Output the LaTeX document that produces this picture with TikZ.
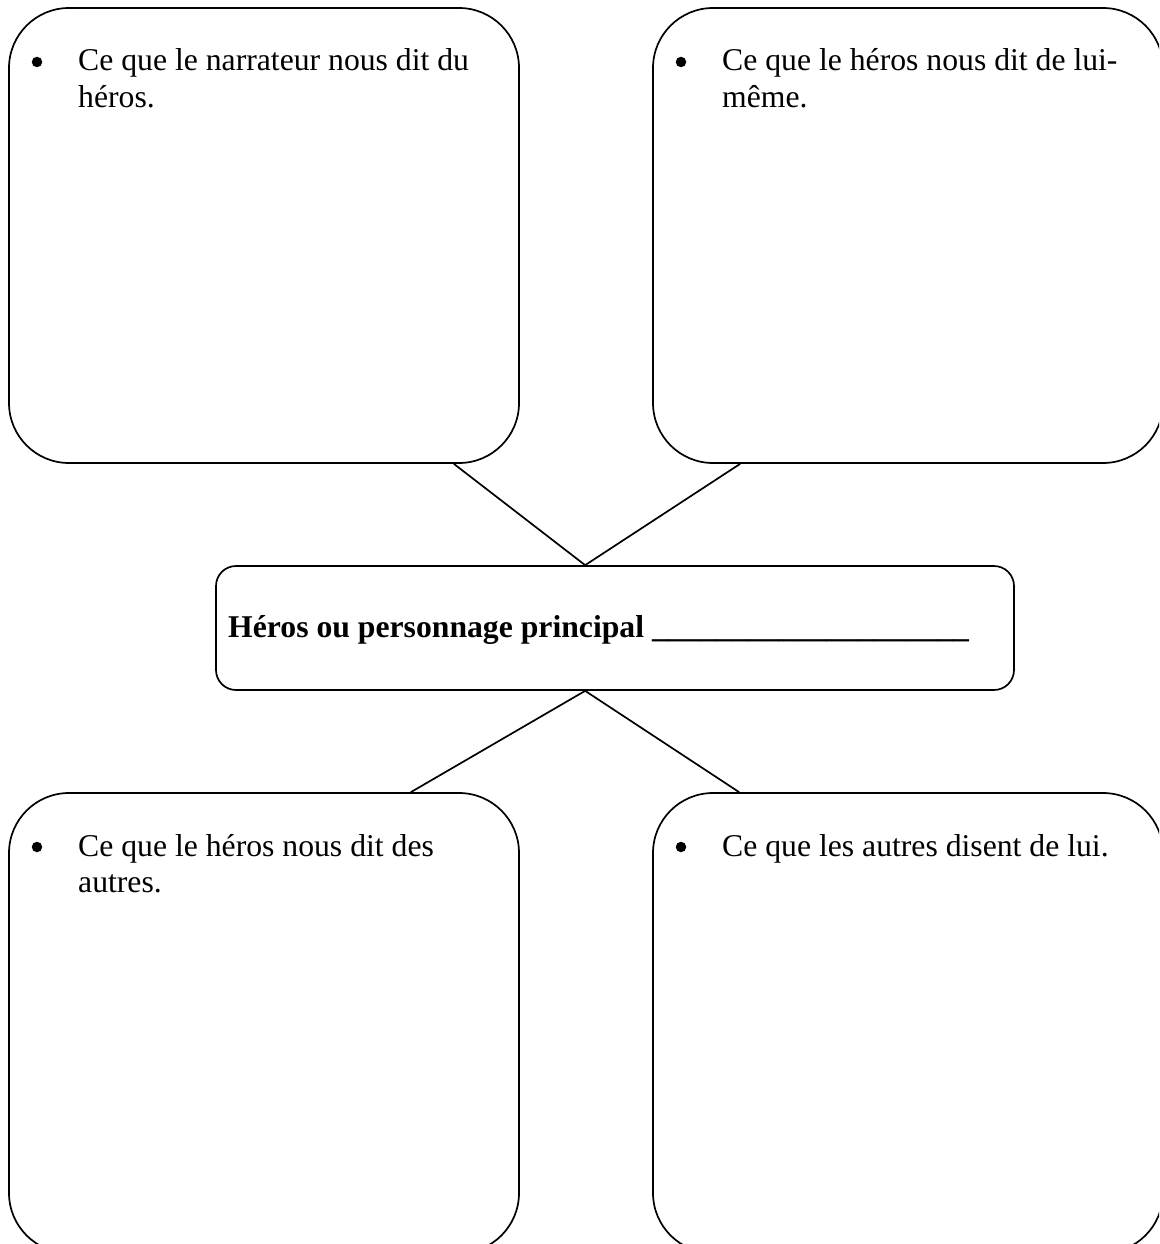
\documentclass[tikz,border=0pt]{standalone}
\usepackage{fontspec}
\setmainfont{Liberation Serif}
\usetikzlibrary{calc}
\begin{document}
\begin{tikzpicture}[x=1pt,y=-1pt,
  bigbox/.style={draw,line width=1.7pt,rounded corners=60pt,inner sep=0pt,minimum width=510pt,minimum height=#1},
  midbox/.style={draw,line width=1.7pt,rounded corners=20pt,inner sep=0pt,minimum width=798pt,minimum height=124pt},
  conn/.style={line width=1.7pt},
  txt/.style={anchor=base west,inner sep=0pt,text width=440pt,align=flush left,font=\fontsize{31.7}{36.5}\selectfont},
  bul/.style={circle,fill,inner sep=0pt,minimum size=10.5pt}]
\useasboundingbox (0,0) rectangle (1159,1244);
\clip (0,0) rectangle (1159,1244);
\node[bigbox=455pt] (tl) at (264,235.5) {};
\node[bigbox=455pt] (tr) at (908,235.5) {};
\node[bigbox=460pt] (bl) at (264,1023) {};
\node[bigbox=460pt] (br) at (908,1023) {};
\node[midbox] (c) at (615,628) {};
% texts
\node[bul] (b1) at (37,62) {};
\node[txt] (t1) at (78,71) {Ce que le narrateur nous dit du\\héros.};
\node[bul] (b2) at (681,62) {};
\node[txt] (t2) at (722,71) {Ce que le héros nous dit de lui-\\même.};
\node[bul] (b3) at (37,847) {};
\node[txt] (t3) at (78,856) {Ce que le héros nous dit des\\autres.};
\node[bul] (b4) at (681,847) {};
\node[txt] (t4) at (722,856) {Ce que les autres disent de lui.};
\node[anchor=base west,inner sep=0pt,font=\fontsize{31.7}{36.5}\selectfont\bfseries] (ct) at (228,637) {Héros ou personnage principal \_\_\_\_\_\_\_\_\_\_\_\_\_\_\_\_\_\_\_\_};
% connectors
\coordinate (ctop) at ($(c.north west)+(370,0)$);
\coordinate (cbot) at ($(c.south west)+(370,0)$);
\draw[conn] ($(tl.south east)+(-66,0)$) -- (ctop) -- ($(tr.south west)+(88,0)$);
\draw[conn] ($(bl.north east)+(-109,0)$) -- (cbot) -- ($(br.north west)+(87,0)$);
\end{tikzpicture}
\end{document}
